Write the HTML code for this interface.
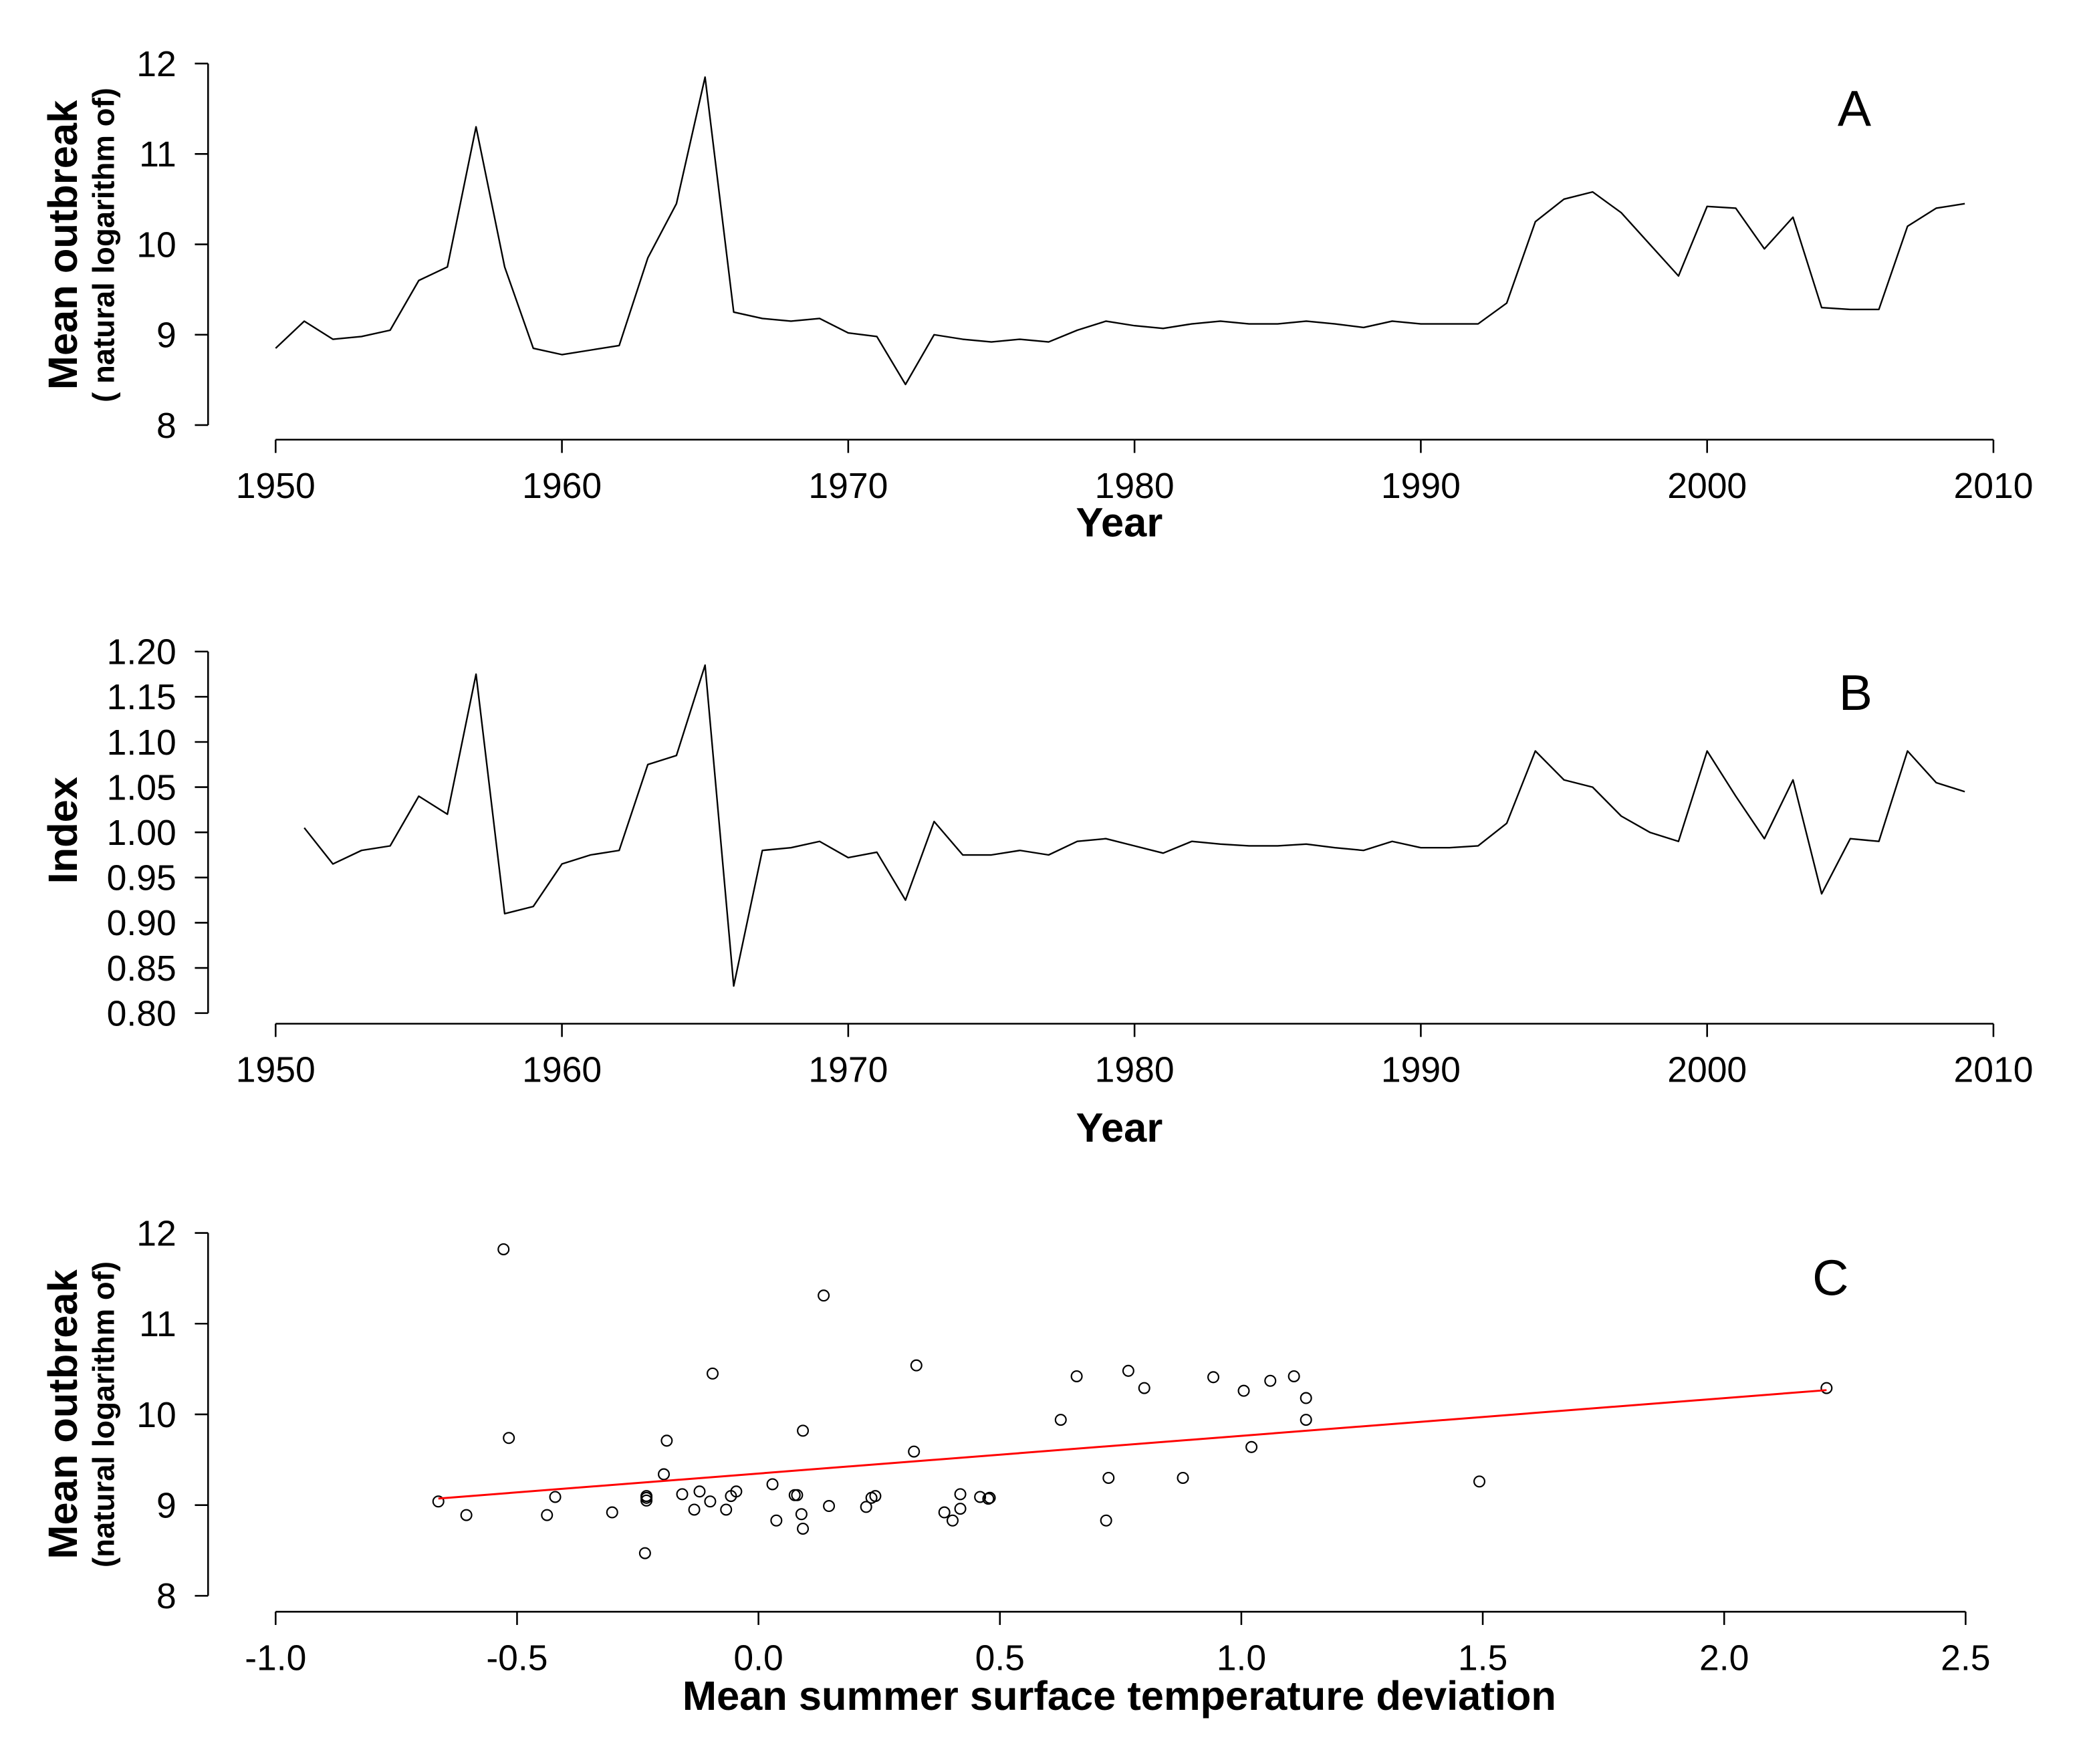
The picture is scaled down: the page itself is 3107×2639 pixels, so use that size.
<!DOCTYPE html>
<html><head><meta charset="utf-8">
<style>html,body{margin:0;padding:0;background:#fff;}svg{display:block;}
text{font-family:"Liberation Sans",Arial,sans-serif;fill:#000;}</style></head>
<body>
<svg id="chart" xmlns="http://www.w3.org/2000/svg" width="3107" height="2639" viewBox="0 0 1568 1332">
<rect width="1568" height="1332" fill="#fff"/>
<g id="root"></g>
</svg>
<script>
const yearsA = [1950,1951,1952,1953,1954,1955,1956,1957,1958,1959,1960,1961,1962,1963,1964,1965,1966,1967,1968,1969,1970,1971,1972,1973,1974,1975,1976,1977,1978,1979,1980,1981,1982,1983,1984,1985,1986,1987,1988,1989,1990,1991,1992,1993,1994,1995,1996,1997,1998,1999,2000,2001,2002,2003,2004,2005,2006,2007,2008,2009];
const outbreakA = [8.85,9.15,8.95,8.98,9.05,9.6,9.75,11.3,9.75,8.85,8.78,8.83,8.88,9.85,10.45,11.85,9.25,9.18,9.15,9.18,9.02,8.98,8.45,9.0,8.95,8.92,8.95,8.92,9.05,9.15,9.1,9.07,9.12,9.15,9.12,9.12,9.15,9.12,9.08,9.15,9.12,9.12,9.12,9.35,10.25,10.5,10.58,10.35,10.0,9.65,10.42,10.4,9.95,10.3,9.3,9.28,9.28,10.2,10.4,10.45];
const yearsB = yearsA.slice(1);
const indexB = [1.005,0.965,0.98,0.985,1.04,1.02,1.175,0.91,0.918,0.965,0.975,0.98,1.075,1.085,1.185,0.83,0.98,0.983,0.99,0.972,0.978,0.925,1.012,0.975,0.975,0.98,0.975,0.99,0.993,0.985,0.977,0.99,0.987,0.985,0.985,0.987,0.983,0.98,0.99,0.983,0.983,0.985,1.01,1.09,1.058,1.05,1.018,1.0,0.99,1.09,1.04,0.993,1.058,0.932,0.993,0.99,1.09,1.055,1.045];
const tempC = [-0.663,-0.605,-0.528,-0.517,-0.438,-0.421,-0.303,-0.235,-0.232,-0.232,-0.232,-0.196,-0.19,-0.158,-0.133,-0.122,-0.1,-0.095,-0.067,-0.057,-0.046,0.029,0.037,0.075,0.08,0.092,0.089,0.092,0.135,0.146,0.223,0.234,0.242,0.322,0.327,0.385,0.402,0.418,0.418,0.459,0.476,0.479,0.626,0.659,0.72,0.725,0.766,0.799,0.879,0.942,1.005,1.021,1.06,1.109,1.134,1.134,1.493,2.212];
const outbreakC = [9.04,8.89,11.82,9.74,8.89,9.09,8.92,8.47,9.1,9.05,9.08,9.34,9.71,9.12,8.95,9.15,9.04,10.45,8.95,9.1,9.15,9.23,8.83,9.11,9.11,9.82,8.9,8.74,11.31,8.99,8.98,9.08,9.1,9.59,10.54,8.92,8.83,9.12,8.96,9.09,9.07,9.08,9.94,10.42,8.83,9.3,10.48,10.29,9.3,10.41,10.26,9.64,10.37,10.42,10.18,9.94,9.26,10.29];
const yearTicks = [1950,1960,1970,1980,1990,2000,2010];
const ticksA = [8,9,10,11,12];
const ticksB = [0.80,0.85,0.90,0.95,1.00,1.05,1.10,1.15,1.20];
const ticksCx = [-1.0,-0.5,0.0,0.5,1.0,1.5,2.0,2.5];
const ticksCy = [8,9,10,11,12];

const NS="http://www.w3.org/2000/svg";
const root=document.getElementById('root');
function mk(tag,attrs,parent,txt){const e=document.createElementNS(NS,tag);for(const k in attrs)e.setAttribute(k,attrs[k]);if(txt!==undefined)e.textContent=txt;(parent||root).appendChild(e);return e;}
function lin(d0,d1,r0,r1){return v=>r0+(v-d0)*(r1-r0)/(d1-d0);}

function axes(g,xs,ys,xt,yt,xFmt,yFmt,xAxisY,yAxisX){
  const xa=mk('g',{},g);
  
  
  mk('line',{x1:xs(xt[0]),x2:xs(xt[xt.length-1]),y1:xAxisY,y2:xAxisY,stroke:'#000','stroke-width':1.3},xa);
  xt.forEach(t=>{
    mk('line',{x1:xs(t),x2:xs(t),y1:xAxisY,y2:xAxisY+10,stroke:'#000','stroke-width':1.3},xa);
    const l=mk('text',{x:xs(t),y:xAxisY+44,'font-size':27,'text-anchor':'middle'},xa,xFmt(t));
    
    
  });
  const ya=mk('g',{},g);
  
  
  mk('line',{x1:yAxisX,x2:yAxisX,y1:ys(yt[0]),y2:ys(yt[yt.length-1]),stroke:'#000','stroke-width':1.3},ya);
  yt.forEach(t=>{
    mk('line',{x1:yAxisX-10,x2:yAxisX,y1:ys(t),y2:ys(t),stroke:'#000','stroke-width':1.3},ya);
    const l=mk('text',{x:yAxisX-24,y:ys(t)+9.5,'font-size':27,'text-anchor':'end'},ya,yFmt(t));
    
    
  });
}
function linePath(xs,ys,X,Y){return X.map((v,i)=>(i?'L':'M')+xs(v).toFixed(2)+','+ys(Y[i]).toFixed(2)).join('');}

// Panel A
const gA=mk('g',{});


const xA=lin(1950,2010,208,1505), yA=lin(8,12,321,48);
axes(gA,xA,yA,yearTicks,ticksA,String,String,332,157);
const pA=mk('path',{d:linePath(xA,yA,yearsA,outbreakA),fill:'none',stroke:'#000','stroke-width':1.2,'stroke-linejoin':'round'},gA);


const tA=mk('text',{x:1400,y:95,'font-size':38,'text-anchor':'middle'},gA,'A');


const xtA=mk('text',{x:845,y:405,'font-size':31,'font-weight':'bold','text-anchor':'middle'},gA,'Year');


const ytA=mk('text',{transform:'translate(58,185) rotate(-90)','font-size':31,'font-weight':'bold','text-anchor':'middle'},gA,'Mean outbreak');


const ysA=mk('text',{transform:'translate(86,185) rotate(-90)','font-size':23,'text-anchor':'middle','font-weight':'bold'},gA,'( natural logarithm of)');



// Panel B
const gB=mk('g',{});


const xB=lin(1950,2010,208,1505), yB=lin(0.8,1.2,765,492);
axes(gB,xB,yB,yearTicks,ticksB,String,t=>t.toFixed(2),773,157);
const pB=mk('path',{d:linePath(xB,yB,yearsB,indexB),fill:'none',stroke:'#000','stroke-width':1.2,'stroke-linejoin':'round'},gB);


const tB=mk('text',{x:1401,y:536,'font-size':38,'text-anchor':'middle'},gB,'B');


const xtB=mk('text',{x:845,y:862,'font-size':31,'font-weight':'bold','text-anchor':'middle'},gB,'Year');


const ytB=mk('text',{transform:'translate(58,627) rotate(-90)','font-size':31,'font-weight':'bold','text-anchor':'middle'},gB,'Index');



// Panel C
const gC=mk('g',{});


const xC=lin(-1,2.5,208,1484), yC=lin(8,12,1205,931);
axes(gC,xC,yC,ticksCx,ticksCy,t=>t.toFixed(1),String,1217,157);
tempC.forEach((v,i)=>{
  const c=mk('circle',{cx:xC(v),cy:yC(outbreakC[i]),r:4,fill:'none',stroke:'#000','stroke-width':1.1},gC);
  
  
});
(function(){
  const n=tempC.length;let mx=0,my=0;tempC.forEach((v,i)=>{mx+=v;my+=outbreakC[i];});mx/=n;my/=n;
  let sxy=0,sxx=0;tempC.forEach((v,i)=>{sxy+=(v-mx)*(outbreakC[i]-my);sxx+=(v-mx)*(v-mx);});
  const b=sxy/sxx,a=my-b*mx;const x0=Math.min(...tempC),x1=Math.max(...tempC);
  const r=mk('line',{x1:xC(x0),y1:yC(a+b*x0),x2:xC(x1),y2:yC(a+b*x1),stroke:'#ff0000','stroke-width':1.5},gC);
  
  
})();
const tC=mk('text',{x:1382,y:978,'font-size':38,'text-anchor':'middle'},gC,'C');


const xtC=mk('text',{x:845,y:1291,'font-size':31,'font-weight':'bold','text-anchor':'middle'},gC,'Mean summer surface temperature deviation');


const ytC=mk('text',{transform:'translate(58,1068) rotate(-90)','font-size':31,'font-weight':'bold','text-anchor':'middle'},gC,'Mean outbreak');


const ysC=mk('text',{transform:'translate(86,1068) rotate(-90)','font-size':23,'text-anchor':'middle','font-weight':'bold'},gC,'(natural logarithm of)');


</script>
</body></html>
